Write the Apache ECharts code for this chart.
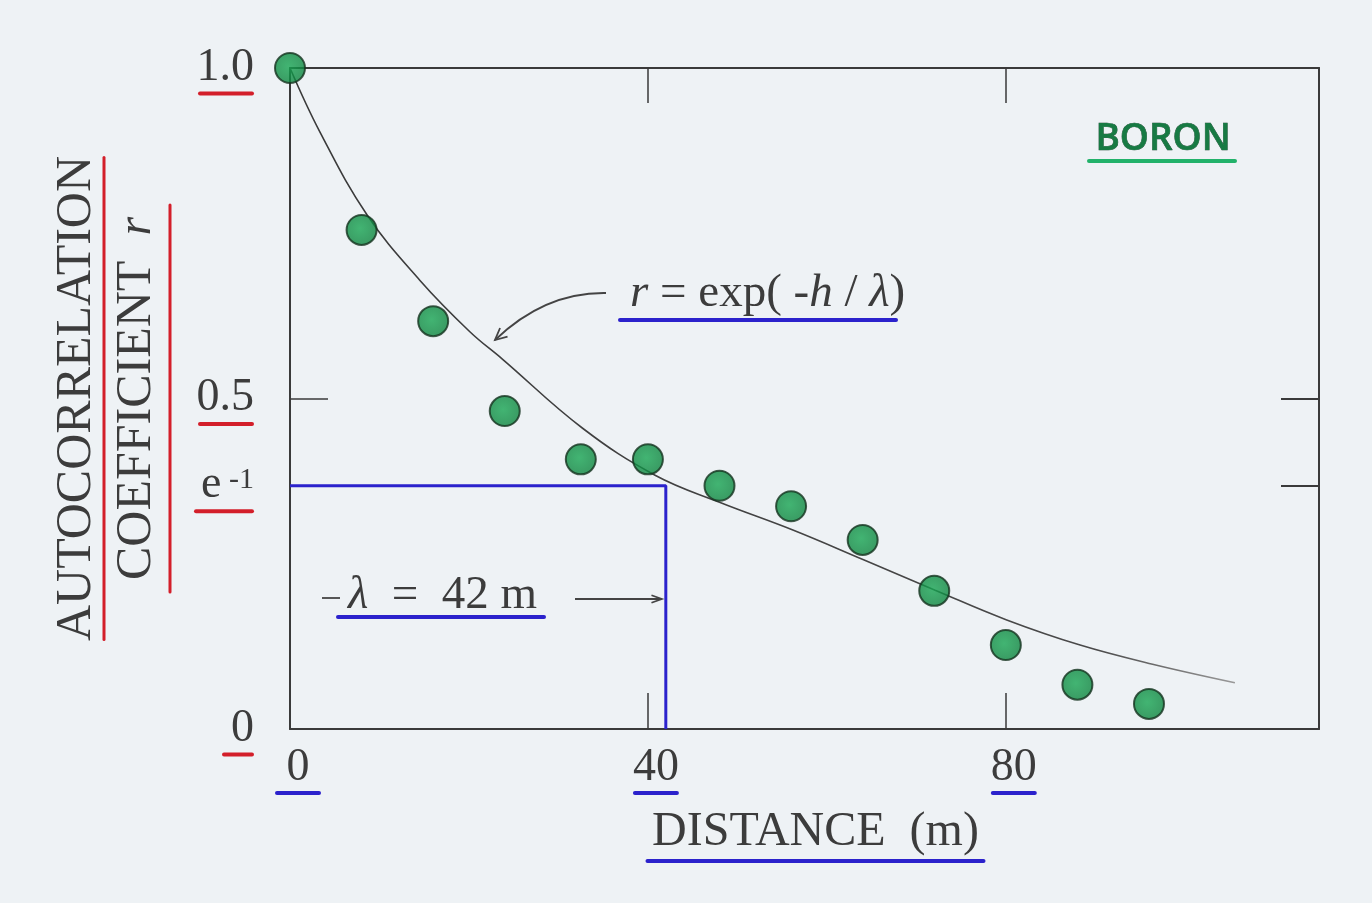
<!DOCTYPE html>
<html>
<head>
<meta charset="utf-8">
<title>Boron autocorrelation</title>
<script src="https://cdn.jsdelivr.net/npm/echarts@6/dist/echarts.min.js"></script>
<style>
  html, body { margin: 0; padding: 0; background: #ffffff; }
  #chart { width: 1372px; height: 903px; }
</style>
</head>
<body>
<div id="chart"></div>
<script>
// Sample autocorrelation of boron vs. lag distance (m)
const H_LAG = [0, 8, 16, 24, 32.5, 40, 48, 56, 64, 72, 80, 88, 96];
const R_VAL = [1.0, 0.755, 0.617, 0.481, 0.408, 0.408, 0.368, 0.337, 0.286, 0.209, 0.127, 0.067, 0.038];

// Hand-fitted exponential model curve, traced points
const CURVE_H = [0, 3.35, 8.6, 14.5, 20.1, 23.7, 32.7, 40.8, 48.0, 56.2, 64.1, 72.1, 80.1, 88.3, 96.4, 105.6];
const CURVE_R = [1.0, 0.903, 0.778, 0.679, 0.601, 0.560, 0.455, 0.384, 0.343, 0.301, 0.256, 0.210, 0.165, 0.127, 0.098, 0.070];

// Correlation length and the e^-1 level
const LAMBDA = 42;
const E_INV = Math.exp(-1);

// Axis ticks
const X_TICKS = [0, 40, 80];
const X_INNER_TICKS = [40, 80];
const Y_TICKS = [0, 0.5, E_INV, 1];
const Y_LEFT_INNER_TICKS = [0.5];
const Y_RIGHT_INNER_TICKS = [0.5, E_INV];

const SERIF = '"Liberation Serif", "DejaVu Serif", serif';
const INK = '#3c3c3c';
const RED = '#d31f2a';
const BLUE = '#2b22cc';
const AXIS = '#3a3a3a';

const chart = echarts.init(document.getElementById('chart'), null, { renderer: 'canvas' });

const points = H_LAG.map((h, i) => [h, R_VAL[i]]);
const curve = CURVE_H.map((h, i) => [h, CURVE_R[i]]);
const lambdaGuide = [[0, E_INV], [LAMBDA, E_INV], [LAMBDA, 0]];

function yLabel(v) {
  if (Math.abs(v - E_INV) < 1e-9) return '{v|e}{s| -1}\n{ue|}';
  if (v === 1) return '{v|1.0}\n{u|}';
  if (v === 0) return '{v|0}\n{u0|}';
  return '{v|' + v + '}\n{u|}';
}

const frameLine = { show: true, onZero: false, lineStyle: { color: AXIS, width: 2 } };

const option = {
  backgroundColor: '#eef2f5',
  animation: false,
  grid: { left: 290, right: 53, top: 68, bottom: 174 },
  xAxis: [
    {
      type: 'value', min: 0, max: 115, position: 'bottom',
      splitLine: { show: false },
      axisLine: frameLine,
      axisTick: { show: true, inside: true, length: 36, customValues: X_INNER_TICKS, lineStyle: { color: AXIS, width: 1.5 } },
      axisLabel: {
        customValues: X_TICKS, margin: 19, padding: [0, 0, 0, 16],
        formatter: v => '{v|' + v + '}\n{u|}',
        rich: {
          v: { fontFamily: SERIF, fontSize: 46, color: INK, lineHeight: 40 },
          u: { width: 46, height: 4, backgroundColor: BLUE, borderRadius: 2, lineHeight: 10 }
        }
      },
      name: '{t|DISTANCE  (m)}\n{u|}',
      nameLocation: 'middle', nameGap: 79,
      nameTextStyle: {
        padding: [0, 0, 0, 22],
        rich: {
          t: { fontFamily: SERIF, fontSize: 48, color: INK, lineHeight: 48 },
          u: { width: 340, height: 4, backgroundColor: BLUE, borderRadius: 2, lineHeight: 10 }
        }
      }
    },
    {
      type: 'value', min: 0, max: 115, position: 'top',
      splitLine: { show: false },
      axisLine: frameLine,
      axisTick: { show: true, inside: true, length: 35, customValues: X_INNER_TICKS, lineStyle: { color: AXIS, width: 1.5 } },
      axisLabel: { show: false }
    }
  ],
  yAxis: [
    {
      type: 'value', min: 0, max: 1, position: 'left',
      splitLine: { show: false },
      axisLine: frameLine,
      axisTick: { show: true, inside: true, length: 38, customValues: Y_LEFT_INNER_TICKS, lineStyle: { color: AXIS, width: 1.5 } },
      axisLabel: {
        customValues: Y_TICKS, margin: 36, align: 'right', padding: [11, 0, 0, 0],
        formatter: yLabel,
        rich: {
          v: { fontFamily: SERIF, fontSize: 46, color: INK, lineHeight: 40 },
          s: { fontFamily: SERIF, fontSize: 30, color: INK, verticalAlign: 'top', lineHeight: 40 },
          u: { width: 56, height: 4, backgroundColor: RED, borderRadius: 2, lineHeight: 12, align: 'right' },
          ue: { width: 60, height: 4, backgroundColor: RED, borderRadius: 2, lineHeight: 12, align: 'right' },
          u0: { width: 32, height: 4, backgroundColor: RED, borderRadius: 2, lineHeight: 12, align: 'right' }
        }
      },
      name: '{a|AUTOCORRELATION}\n{u1|}\n{b|COEFFICIENT  }{r|r}\n{u2|}',
      nameLocation: 'middle', nameGap: 116, nameRotate: 90,
      nameTextStyle: {
        rich: {
          a: { fontFamily: SERIF, fontSize: 50, color: INK, lineHeight: 46 },
          u1: { width: 485, height: 3, backgroundColor: RED, borderRadius: 2, lineHeight: 8 },
          b: { fontFamily: SERIF, fontSize: 50, color: INK, lineHeight: 58 },
          r: { fontFamily: SERIF, fontSize: 48, fontStyle: 'italic', color: INK, lineHeight: 58 },
          u2: { width: 390, height: 3, backgroundColor: RED, borderRadius: 2, lineHeight: 8 }
        }
      }
    },
    {
      type: 'value', min: 0, max: 1, position: 'right',
      splitLine: { show: false },
      axisLine: frameLine,
      axisTick: { show: true, inside: true, length: 38, customValues: Y_RIGHT_INNER_TICKS, lineStyle: { color: AXIS, width: 2 } },
      axisLabel: { show: false }
    }
  ],
  series: [
    {
      name: 'lambda guide', type: 'line', data: lambdaGuide,
      showSymbol: false, symbol: 'none', z: 2,
      lineStyle: { color: BLUE, width: 3 }
    },
    {
      name: 'model', type: 'line', data: curve, smooth: 0.4,
      showSymbol: false, symbol: 'none', z: 3,
      lineStyle: {
        width: 1.6,
        color: { type: 'linear', x: 0, y: 0, x2: 1, y2: 0,
          colorStops: [{ offset: 0, color: '#3a3a3a' }, { offset: 0.85, color: '#4a4a4a' }, { offset: 1, color: '#9a9a9a' }] }
      }
    },
    {
      name: 'boron', type: 'scatter', data: points, symbolSize: 30, clip: false, z: 5,
      itemStyle: {
        color: { type: 'radial', x: 0.45, y: 0.45, r: 0.6,
          colorStops: [{ offset: 0, color: '#17a552' }, { offset: 1, color: '#0b813c' }] },
        borderColor: '#15331f', borderWidth: 2
      }
    }
  ]
};

chart.setOption(option);

// Annotations placed after layout so arrows can land on the guide lines
function arrowHead(tx, ty, dx, dy, len, spread) {
  const n = Math.hypot(dx, dy); dx /= n; dy /= n;
  const c = Math.cos(spread), s = Math.sin(spread);
  const a = [tx - len * (dx * c - dy * s), ty - len * (dy * c + dx * s)];
  const b = [tx - len * (dx * c + dy * s), ty - len * (dy * c - dx * s)];
  return { type: 'polyline', shape: { points: [a, [tx, ty], b] },
           style: { stroke: '#444', lineWidth: 1.8, fill: null }, z: 10 };
}

const lamX = chart.convertToPixel({ xAxisIndex: 0, yAxisIndex: 0 }, [LAMBDA, 0])[0];
const arrowY = 599;

const textStyle = { fontFamily: SERIF, fontSize: 47, fill: INK };

chart.setOption({
  graphic: [
    { type: 'text', x: 1163, y: 139, z: 10,
      style: { text: 'BORON', fontFamily: '"Open Sans", "Noto Sans", sans-serif', fontWeight: 600,
               fontSize: 37, fill: '#177a43', stroke: '#0f3a22', lineWidth: 0.6,
               align: 'center', verticalAlign: 'middle' } },
    { type: 'rect', shape: { x: 1087, y: 159, width: 150, height: 4, r: 2 }, style: { fill: '#22b26a' }, z: 10 },

    { type: 'text', x: 630, y: 294, z: 10,
      style: { text: '{i|r}{n| = exp( -}{i|h}{n| / }{i|λ}{n|)}', align: 'left', verticalAlign: 'middle',
               rich: { i: Object.assign({ fontStyle: 'italic' }, textStyle), n: textStyle } } },
    { type: 'rect', shape: { x: 618, y: 318, width: 280, height: 4, r: 2 }, style: { fill: BLUE }, z: 10 },
    { type: 'bezierCurve', shape: { x1: 606, y1: 293, cpx1: 545, cpy1: 292, x2: 495, y2: 340 },
      style: { stroke: '#444', lineWidth: 1.8, fill: null }, z: 10 },
    arrowHead(495, 340, -0.75, 0.66, 13, 0.45),

    { type: 'text', x: 348, y: 596, z: 10,
      style: { text: '{i|λ}{n|  =  42 m}', align: 'left', verticalAlign: 'middle',
               rich: { i: Object.assign({ fontStyle: 'italic' }, textStyle), n: textStyle } } },
    { type: 'rect', shape: { x: 336, y: 615, width: 210, height: 4, r: 2 }, style: { fill: BLUE }, z: 10 },
    { type: 'line', shape: { x1: 322, y1: 598, x2: 340, y2: 598 }, style: { stroke: '#444', lineWidth: 1.8 }, z: 10 },
    { type: 'line', shape: { x1: 575, y1: arrowY, x2: lamX - 4, y2: arrowY }, style: { stroke: '#444', lineWidth: 1.8 }, z: 10 },
    arrowHead(lamX - 4, arrowY, 1, 0, 11, 0.35)
  ]
});
</script>
</body>
</html>
